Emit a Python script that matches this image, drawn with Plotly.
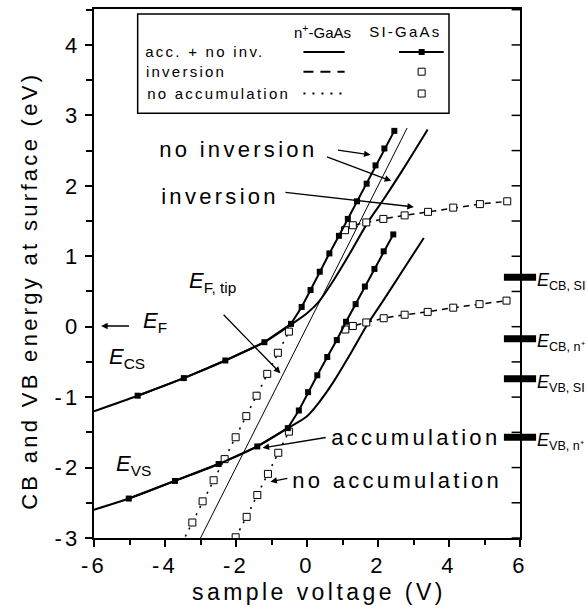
import plotly.graph_objects as go

# ---------------- data ----------------
# tip Fermi level (thin straight line)
eftip_v = [-3.0, 2.82]
eftip_e = [-3.0, 2.82]

# n+-GaAs, accumulation + no inversion (solid, no markers)
ncb_v = [-6.0, -4.77, -3.47, -2.30, -1.20, -0.45, 0.0, 0.34, 0.75, 1.23, 1.70, 2.16, 2.70, 3.40]
ncb_e = [-1.20, -0.98, -0.73, -0.48, -0.22, 0.03, 0.19, 0.36, 0.66, 1.06, 1.47, 1.81, 2.23, 2.80]
nvb_v = [-6.0, -5.02, -3.72, -2.49, -1.40, -0.54, 0.0, 0.33, 0.75, 1.23, 1.70, 2.16, 2.70, 3.29]
nvb_e = [-2.60, -2.44, -2.19, -1.95, -1.70, -1.44, -1.27, -1.08, -0.78, -0.38, 0.03, 0.38, 0.80, 1.26]

# SI-GaAs, accumulation + no inversion (solid with filled squares)
sicb_v = [-4.77, -3.47, -2.30, -1.20, -0.45, -0.15, 0.10, 0.36, 0.63, 0.90, 1.15, 1.41, 1.68, 1.93, 2.18, 2.46]
sicb_e = [-0.98, -0.73, -0.48, -0.22, 0.04, 0.28, 0.52, 0.78, 1.04, 1.29, 1.53, 1.78, 2.03, 2.29, 2.53, 2.78]
sivb_v = [-5.02, -3.72, -2.49, -1.40, -0.54, -0.23, 0.03, 0.29, 0.57, 0.84, 1.10, 1.37, 1.63, 1.90, 2.16, 2.43]
sivb_e = [-2.44, -2.19, -1.95, -1.70, -1.44, -1.19, -0.93, -0.69, -0.43, -0.19, 0.07, 0.32, 0.57, 0.82, 1.07, 1.31]

# SI-GaAs, inversion (dashed, open squares)
invcb_v = [1.07, 1.29, 1.67, 2.15, 2.75, 3.41, 4.12, 4.87, 5.64]
invcb_e = [1.37, 1.44, 1.48, 1.53, 1.58, 1.63, 1.69, 1.74, 1.78]
invvb_v = [1.08, 1.29, 1.67, 2.16, 2.75, 3.40, 4.12, 4.86, 5.62]
invvb_e = [-0.04, 0.01, 0.06, 0.12, 0.17, 0.21, 0.27, 0.32, 0.37]

# SI-GaAs, no accumulation (dotted, open squares)
naccb_v = [-3.53, -3.23, -2.94, -2.63, -2.32, -2.01, -1.71, -1.42, -1.12, -0.82, -0.51]
naccb_e = [-3.08, -2.78, -2.48, -2.18, -1.88, -1.57, -1.27, -0.98, -0.67, -0.37, -0.07]
nacvb_v = [-2.01, -1.70, -1.40, -1.10, -0.81, -0.51]
nacvb_e = [-2.99, -2.70, -2.39, -2.09, -1.79, -1.49]

# bulk band edges marked on the right axis
level_e = [0.70, -0.17, -0.74, -1.57]
level_labels = ["<i>E</i><sub>CB, SI</sub>", "<i>E</i><sub>CB, n⁺</sub>",
                "<i>E</i><sub>VB, SI</sub>", "<i>E</i><sub>VB, n⁺</sub>"]

x_ticks = [-6, -4, -2, 0, 2, 4, 6]
x_minor = [-5, -3, -1, 1, 3, 5]
y_ticks = [-3, -2, -1, 0, 1, 2, 3, 4]
y_right_ticks = [-3 + 0.5 * i for i in range(16)]

X_RANGE = [-6, 6]
Y_RANGE = [-3, 4.51]

# ---------------- figure ----------------
FONT = "Liberation Sans, Arial, Helvetica, sans-serif"
K = "black"
W, H = 587, 616
ML, MR, MT, MB = 94, 67, 7, 78
PW = W - ML - MR
PX_X = (X_RANGE[1] - X_RANGE[0]) / PW   # data units per pixel

fig = go.Figure()

def add(x, y, **kw):
    fig.add_trace(go.Scatter(x=x, y=y, showlegend=False, **kw))

add(eftip_v, eftip_e, mode="lines", line=dict(color=K, width=1))
add(ncb_v, ncb_e, mode="lines", line=dict(color=K, width=2, shape="spline", smoothing=0.8))
add(nvb_v, nvb_e, mode="lines", line=dict(color=K, width=2, shape="spline", smoothing=0.8))

open_sq = dict(symbol="square", size=7, color="white", line=dict(color=K, width=1))
add(naccb_v, naccb_e, mode="lines+markers", line=dict(color=K, width=1.6, dash="2px,6px"), marker=open_sq)
add(nacvb_v, nacvb_e, mode="lines+markers", line=dict(color=K, width=1.6, dash="2px,6px"), marker=open_sq)
add(invcb_v, invcb_e, mode="lines+markers", line=dict(color=K, width=1.5, dash="6px,5px"), marker=open_sq)
add(invvb_v, invvb_e, mode="lines+markers", line=dict(color=K, width=1.5, dash="6px,5px"), marker=open_sq)

fill_sq = dict(symbol="square", size=6, color=K)
add(sicb_v, sicb_e, mode="lines+markers", line=dict(color=K, width=2), marker=fill_sq)
add(sivb_v, sivb_e, mode="lines+markers", line=dict(color=K, width=2), marker=fill_sq)

# inward ticks on the right axis
add([X_RANGE[1] - 3.5 * PX_X] * len(y_right_ticks), y_right_ticks, mode="markers", cliponaxis=False,
    marker=dict(symbol="line-ew", size=7, color=K, line=dict(color=K, width=1.5)))

# right-axis level bars
add([X_RANGE[1]] * len(level_e), level_e, mode="markers", cliponaxis=False,
    marker=dict(symbol="line-ew", size=23, color=K, line=dict(color=K, width=7)))

# ---------------- legend box (drawn) ----------------
fig.add_shape(type="rect", x0=-4.77, x1=4.0, y0=3.03, y1=4.44, line=dict(color=K, width=1.5),
              fillcolor="white", layer="below")

add([-0.10, 1.06], [3.90, 3.90], mode="lines", line=dict(color=K, width=2))
add([-0.10, 1.06], [3.62, 3.62], mode="lines", line=dict(color=K, width=2, dash="10px,7px"))
add([-0.10, 1.06], [3.31, 3.31], mode="lines", line=dict(color=K, width=2, dash="2px,7px"))
add([2.59, 3.85], [3.90, 3.90], mode="lines", line=dict(color=K, width=2))
add([3.23], [3.90], mode="markers", marker=fill_sq)
add([3.23, 3.23], [3.62, 3.31], mode="markers", marker=open_sq)

ann = []
LF = dict(family=FONT, size=15, color=K)
ann.append(dict(x=0.45, y=4.19, text="n<sup>+</sup>-GaAs", font=LF))
ann.append(dict(x=2.78, y=4.19, text="SI-GaAs", font=LF))
ann.append(dict(x=-2.86, y=3.90, text="acc. + no inv.", font=LF))
ann.append(dict(x=-3.42, y=3.62, text="inversion", font=LF))
ann.append(dict(x=-2.48, y=3.31, text="no accumulation", font=LF))

# ---------------- labels ----------------
TF = dict(family=FONT, size=22, color=K)
ann.append(dict(x=-1.94, y=2.51, text="no inversion", font=TF))
ann.append(dict(x=-2.46, y=1.85, text="inversion", font=TF))
ann.append(dict(x=3.06, y=-1.57, text="accumulation", font=TF))
ann.append(dict(x=2.54, y=-2.18, text="no accumulation", font=TF))

EF = dict(family=FONT, size=22, color=K)
ann.append(dict(x=-4.68, y=0.06, text="<i>E</i><sub>F</sub>", xanchor="left", font=EF))
ann.append(dict(x=-5.64, y=-0.45, text="<i>E</i><sub>CS</sub>", xanchor="left", font=EF))
ann.append(dict(x=-5.44, y=-1.97, text="<i>E</i><sub>VS</sub>", xanchor="left", font=EF))
ann.append(dict(x=-3.39, y=0.63, text="<i>E</i><sub>F, tip</sub>", xanchor="left", font=EF))

RF = dict(family=FONT, size=18, color=K)
for e, t in zip(level_e, level_labels):
    ann.append(dict(x=1.036, xref="paper", y=e - 0.06, text=t, xanchor="left", font=RF))

# arrows (tail -> head)
arrows = [((0.83, 2.51), (1.79, 2.44)),
          ((0.52, 2.42), (2.37, 2.07)),
          ((-0.65, 1.91), (3.01, 1.70)),
          ((-2.39, 0.19), (-0.75, -0.66)),
          ((-4.97, 0.01), (-5.80, 0.01)),
          ((0.57, -1.57), (-1.25, -1.72)),
          ((-0.51, -2.15), (-1.03, -2.20))]
for (tx, ty), (hx, hy) in arrows:
    ann.append(dict(x=hx, y=hy, ax=tx, ay=ty, axref="x", ayref="y", text="", showarrow=True,
                    arrowhead=2, arrowsize=1, arrowwidth=1.3, arrowcolor=K, standoff=0))

# axis titles
ann.append(dict(x=0.527, y=-0.102, xref="paper", yref="paper", text="sample voltage (V)",
                font=dict(family=FONT, size=23, color=K)))
ann.append(dict(x=-0.150, y=0.467, xref="paper", yref="paper", text="CB and VB energy at surface (eV)",
                textangle=-90, font=dict(family=FONT, size=22, color=K)))

for a in ann:
    a.setdefault("xref", "x")
    a.setdefault("yref", "y")
    a.setdefault("showarrow", False)
    a.setdefault("xanchor", "center")
    a.setdefault("yanchor", "middle")
fig.update_layout(annotations=ann)

axis_common = dict(showgrid=False, zeroline=False, showline=True, linecolor=K, linewidth=2,
                   mirror=True, tickcolor=K, tickwidth=2, ticklen=7, ticks="outside",
                   tickfont=dict(family=FONT, size=22, color=K))
fig.update_layout(
    width=W, height=H,
    margin=dict(l=ML, r=MR, t=MT, b=MB),
    plot_bgcolor="white", paper_bgcolor="white",
    showlegend=False,
    font=dict(family=FONT, color=K),
    xaxis=dict(range=X_RANGE, tickmode="array", tickvals=x_ticks, ticktext=[str(v) for v in x_ticks],
               minor=dict(tickmode="array", tickvals=x_minor, ticks="outside",
                          ticklen=5, tickwidth=1.5, tickcolor=K),
               **axis_common),
    yaxis=dict(range=Y_RANGE, tickmode="array", tickvals=y_ticks, ticktext=[str(v) for v in y_ticks],
               minor=dict(dtick=0.5, tick0=0, ticks="outside", ticklen=6, tickwidth=1.5, tickcolor=K),
               **axis_common),
)

post = ("document.querySelectorAll('.main-svg text').forEach(function(t){"
        "if(!t.querySelector('tspan')){t.style.letterSpacing='0.15em';}});")
fig.write_html("out.html", post_script=post)
